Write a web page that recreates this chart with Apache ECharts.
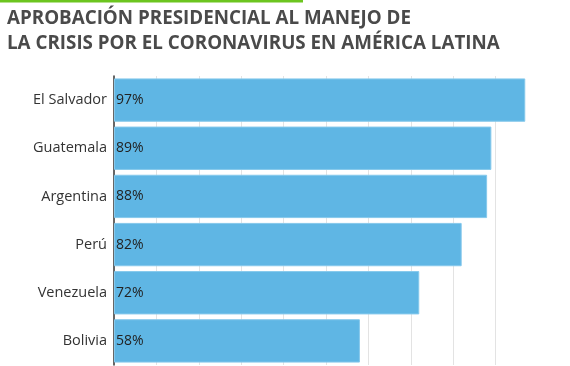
<!DOCTYPE html>
<html><head><meta charset="utf-8">
<script src="https://cdn.jsdelivr.net/npm/echarts@6/dist/echarts.min.js"></script>
<style>html,body{margin:0;padding:0;background:#fff}#c{width:570px;height:366px}</style>
</head><body><div id="c"></div>
<script>
const titleLines = ['APROBACIÓN PRESIDENCIAL AL MANEJO DE', 'LA CRISIS POR EL CORONAVIRUS EN AMÉRICA LATINA'];
const countries = ['El Salvador', 'Guatemala', 'Argentina', 'Perú', 'Venezuela', 'Bolivia'];
const approval = [97, 89, 88, 82, 72, 58];

const chart = echarts.init(document.getElementById('c'), null, {renderer: 'canvas'});
chart.setOption({
  animation: false,
  graphic: [
    {type: 'rect', left: 0, top: 0, shape: {width: 303, height: 2.5}, style: {fill: '#6cc51f'}},
    {type: 'text', left: 7, top: 6.5, style: {text: titleLines.join('\n'), font: 'bold 18.8px "Open Sans"', fill: '#4a4a4a', lineHeight: 25}}
  ],
  grid: {left: 114, right: 32, top: 76, bottom: 1},
  xAxis: {
    type: 'value', min: 0, max: 100, interval: 10,
    axisLabel: {show: false}, axisTick: {show: false}, axisLine: {show: false},
    splitLine: {show: true, showMinLine: false, showMaxLine: false, lineStyle: {color: '#e3e3e3', width: 1}}
  },
  yAxis: {
    type: 'category', data: countries, inverse: true,
    axisTick: {show: false},
    axisLine: {show: true, lineStyle: {color: '#333', width: 1.5}},
    axisLabel: {color: '#333', fontSize: 14.5, fontFamily: '"Open Sans"', margin: 7}
  },
  series: [{
    type: 'bar', data: approval, barCategoryGap: '10%',
    itemStyle: {color: '#5fb6e4', borderColor: '#86c9ec', borderWidth: 1},
    label: {show: true, position: 'insideLeft', offset: [-3, 0], formatter: '{c}%', color: '#222', fontSize: 14, fontFamily: '"Open Sans"'}
  }]
});
</script></body></html>
